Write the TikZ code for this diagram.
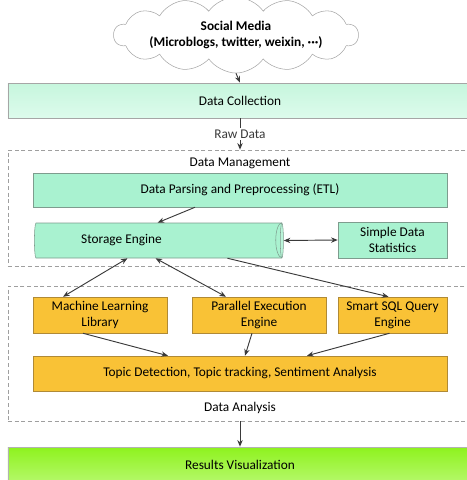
\documentclass[tikz,border=0pt]{standalone}
\usepackage{fontspec}
\setmainfont{Carlito}
\usetikzlibrary{arrows.meta,calc,shapes.geometric,shapes.symbols}
\definecolor{mintlight}{HTML}{DDFBEC}
\definecolor{mintmid}{HTML}{C6F6DD}
\definecolor{mint}{HTML}{A9F2D0}
\definecolor{mintline}{HTML}{7E9C8E}
\definecolor{gold}{HTML}{F9C236}
\definecolor{goldline}{HTML}{B08A36}
\definecolor{limetop}{HTML}{8EF21E}
\definecolor{limebot}{HTML}{B6F86C}
\definecolor{arrowgray}{HTML}{3A3A3A}

\begin{document}
\begin{tikzpicture}[
  x=0.75pt, y=-0.75pt,
  font=\fontsize{10}{12}\selectfont,
  layer/.style={draw=gray!70, inner sep=0pt, align=center, top color=mintmid, bottom color=mintlight},
  box/.style={draw=mintline, fill=mint, align=center, inner sep=2pt},
  task/.style={draw=goldline, fill=gold, align=center, inner sep=2pt},
  zone/.style={draw=gray!75, dash pattern=on 3pt off 2pt, inner sep=0pt},
  flow/.style={-{Stealth[length=5pt,width=4pt]}, arrowgray, line width=.7pt},
  both/.style={{Stealth[length=5pt,width=4pt]}-{Stealth[length=5pt,width=4pt]}, arrowgray, line width=.7pt}
]
\clip (0,0) rectangle (467,480);

\node[cloud, cloud puffs=14, cloud puff arc=110, aspect=5, draw=gray!70, fill=white, inner sep=0pt,
      align=center, font=\fontsize{10}{12}\selectfont\bfseries] (social) at (236,35)
  {Social Media\\(Microblogs, twitter, weixin, ···)};
\node[layer, minimum width=348pt, minimum height=26.25pt] (collect) at (240,100.5) {Data Collection};

\node[zone, minimum width=348pt, minimum height=87pt] (manage) at (240,208) {};
\node (managelabel) at (240,163) {Data Management};
\node[box, minimum width=310.5pt, minimum height=25.5pt] (etl) at (240,190) {Data Parsing and Preprocessing (ETL)};
\node[cylinder, draw=mintline, aspect=0.35, minimum width=26.25pt, minimum height=186.75pt,
      cylinder uses custom fill, cylinder body fill=mint, cylinder end fill=mint!80,
      label={[xshift=-27pt]center:Storage Engine}] (storage) at (157.5,240.5) {};
\draw[mintline] (storage.before top) arc[start angle=90, end angle=270, x radius=4.6pt, y radius=13.1pt];
\node[box, minimum width=81.75pt, minimum height=27pt] (stats) at (392.5,240) {Simple Data\\Statistics};

\node[zone, minimum width=348pt, minimum height=101.25pt] (analysis) at (240,353.5) {};
\node (analysislabel) at (240,408) {Data Analysis};
\node[task, minimum width=100.5pt, minimum height=27pt] (mllib) at (100,315) {Machine Learning\\Library};
\node[task, minimum width=100.5pt, minimum height=27pt] (parallel) at (259,315) {Parallel Execution\\Engine};
\node[task, minimum width=81.75pt, minimum height=27pt] (sqlquery) at (392.5,315) {Smart SQL Query\\Engine};
\node[task, minimum width=310.5pt, minimum height=26.25pt] (topic) at (240,373.5) {Topic Detection, Topic tracking, Sentiment Analysis};

\node[draw=gray!60, top color=limetop, bottom color=limebot, minimum width=348pt, minimum height=27pt, inner sep=0pt] (results) at (240,465) {Results Visualization};

\draw[flow] (social.south) -- (collect.north);
\draw[flow] (collect.south) -- node[fill=white, inner sep=1.5pt] (raw) {Raw Data} (manage.north);
\draw[flow] ($(etl.south)+(-45,0)$) -- (storage.north);
\draw[both] (storage.east) -- (stats.west);
\draw[both] ($(storage.south)+(-30,0)$) -- ($(mllib.north)+(-37,0)$);
\draw[both] ($(storage.south)+(-2,0)$) -- ($(parallel.north)+(-33,0)$);
\draw[flow] ($(storage.south)+(70,0)$) -- ($(sqlquery.north)+(-4,0)$);
\draw[flow] ($(mllib.south)+(-17,0)$) -- ($(topic.north)+(-72,0)$);
\draw[flow] ($(parallel.south)+(-7,0)$) -- ($(topic.north)+(5,0)$);
\draw[flow] ($(sqlquery.south)+(-3,0)$) -- ($(topic.north)+(67,0)$);
\draw[flow] (analysis.south) -- (results.north);
\end{tikzpicture}
\end{document}
